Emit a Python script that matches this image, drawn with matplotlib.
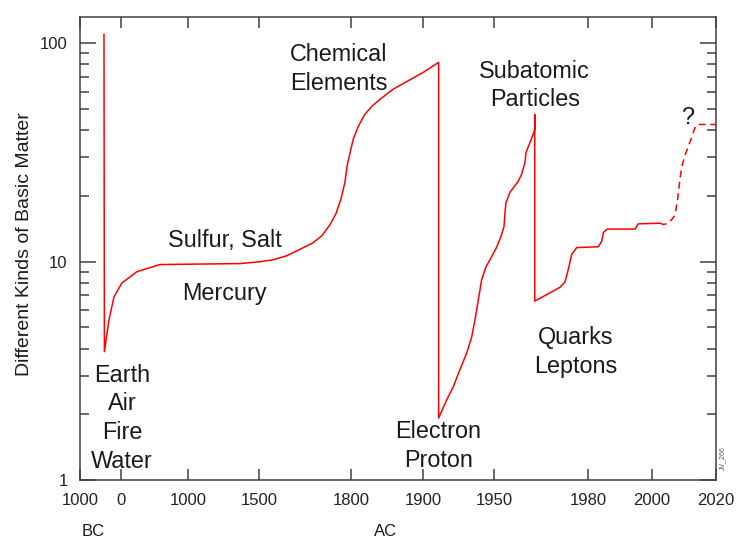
import numpy as np
import matplotlib
matplotlib.use("Agg")
import matplotlib.pyplot as plt

plt.rcParams['font.family'] = ['Liberation Sans', 'DejaVu Sans']

# tick years and where they sit along the axis (the axis is piecewise, not linear)
tick_years = [-1000, 0, 1000, 1500, 1800, 1900, 1950, 1980, 2000, 2020]
tick_labels = ["1000", "0", "1000", "1500", "1800", "1900", "1950", "1980", "2000", "2020"]
tick_pos = [80, 121, 188, 259, 351, 423, 494, 588, 652, 716]

# known kinds of basic matter (solid part)
years = [-415, -405, -293, -171, 15, 239, 582, 1366, 1503, 1546, 1591, 1634, 1676,
         1705, 1732, 1751, 1767, 1780, 1787, 1797, 1803, 1810, 1819, 1829, 1840,
         1858, 1878, 1900, 1911, 1911, 1916.7, 1921.3, 1926, 1930.8, 1934.3,
         1936.6, 1939, 1941.3, 1944.4, 1948.4, 1950.9, 1952.2, 1953.2, 1953.5,
         1953.8, 1955.1, 1957.7, 1958.8, 1959.9, 1960.2, 1961.5, 1962.5, 1963,
         1963, 1963, 1966.8, 1971.1, 1972.7, 1973.7, 1974.8, 1976.4, 1983.2,
         1984.3, 1984.8, 1986, 1994.7, 1995.7, 2002.5]
kinds = [110, 3.87, 5.42, 6.9, 8.0, 9.0, 9.7, 9.8, 9.99, 10.2, 10.65, 11.4, 12.2,
         13.15, 14.8, 16.6, 19.3, 23.0, 27.3, 31.6, 36.3, 41.6, 47.2, 51.5, 55.3,
         61.5, 67.0, 73.5, 81.8, 1.92, 2.33, 2.67, 3.2, 3.82, 4.52,
         5.42, 6.7, 8.27, 9.48, 10.55, 11.7, 13.0, 14.5, 16.7,
         18.6, 20.8, 23.3, 25.1, 28.5, 31.6, 35.2, 38.3, 40.3,
         47.2, 6.6, 7.06, 7.64, 8.1, 9.2, 10.8, 11.6, 11.7,
         12.4, 13.6, 14.1, 14.1, 14.9, 15.0]

# speculative part (dashed)
years_future = [2002.5, 2003.5, 2004.6, 2006.2, 2007.2, 2008, 2008.6, 2009.3,
                2010.4, 2011.4, 2012.5, 2013.6, 2014.6, 2020]
kinds_future = [15.0, 14.8, 14.9, 15.6, 16.4, 19.3, 23.0, 27.3,
                31.0, 33.8, 37.5, 41.8, 42.5, 42.5]


def fwd(x):
    return np.interp(x, tick_years, tick_pos)


def inv(p):
    return np.interp(p, tick_pos, tick_years)


W, H = 737, 540
fig = plt.figure(figsize=(W / 100, H / 100), dpi=100)
ax = fig.add_axes([80 / W, 1 - 480 / H, (716 - 80) / W, (480 - 17) / H])

ax.set_xscale('function', functions=(fwd, inv))
ax.set_yscale('log')

red = '#ff0000'
ax.plot(years, kinds, color=red, lw=1.1)
ax.plot(years_future, kinds_future, color=red, lw=1.1, dashes=(4.5, 3))

ax.set_xlim(-1000, 2020)
ax.set_ylim(1, 132)

ax.set_xticks(tick_years)
ax.set_xticklabels(tick_labels)
ax.set_yticks([1, 10, 100])
ax.set_yticklabels(["1", "10", "100"])
ax.xaxis.set_minor_locator(matplotlib.ticker.NullLocator())

axcol = '#404040'
for s in ax.spines.values():
    s.set_color(axcol)
    s.set_linewidth(1.1)
ax.tick_params(axis='x', which='major', direction='in', top=True, length=8,
               width=1.1, color=axcol, pad=9.5, labelsize=12, labelcolor='#222222')
ax.tick_params(axis='y', which='major', direction='in', right=True, length=11.5,
               width=1.1, color=axcol, pad=9, labelsize=12, labelcolor='#222222')
ax.tick_params(axis='y', which='minor', direction='in', right=True, length=6.5,
               width=1.1, color=axcol)

tc = '#1a1a1a'
fs = 16.8
ls = 1.32
ax.text(15, 1.92, "Earth\nAir\nFire\nWater", ha='center', va='center', fontsize=fs,
        color=tc, linespacing=ls)
ax.text(1260, 12.5, "Sulfur, Salt", ha='center', va='center', fontsize=fs, color=tc)
ax.text(1260, 7.14, "Mercury", ha='center', va='center', fontsize=fs, color=tc)
ax.text(1761, 76, "Chemical\nElements", ha='center', va='center', fontsize=fs,
        color=tc, linespacing=ls)
ax.text(1963, 64.1, "Subatomic\nParticles", ha='center', va='center', fontsize=fs,
        color=tc, linespacing=ls)
ax.text(1911, 1.43, "Electron\nProton", ha='center', va='center', fontsize=fs,
        color=tc, linespacing=ls)
ax.text(1976, 3.87, "Quarks\nLeptons", ha='center', va='center', fontsize=fs,
        color=tc, linespacing=ls)
ax.text(2011.0, 45.5, "?", ha='center', va='center', fontsize=fs, color=tc)

fig.text(25 / W, 1 - 244 / H, "Different Kinds of Basic Matter", rotation=90,
         ha='center', va='center', fontsize=14, color=tc)
fig.text(93 / W, 1 - 532 / H, "BC", ha='center', va='center', fontsize=12, color=tc)
fig.text(386 / W, 1 - 532 / H, "AC", ha='center', va='center', fontsize=12, color=tc)
fig.text(723 / W, 1 - 458 / H, "JV_266", rotation=90, ha='center', va='center',
         fontsize=5, color='#555555')

fig.savefig("out.png", dpi=100)
